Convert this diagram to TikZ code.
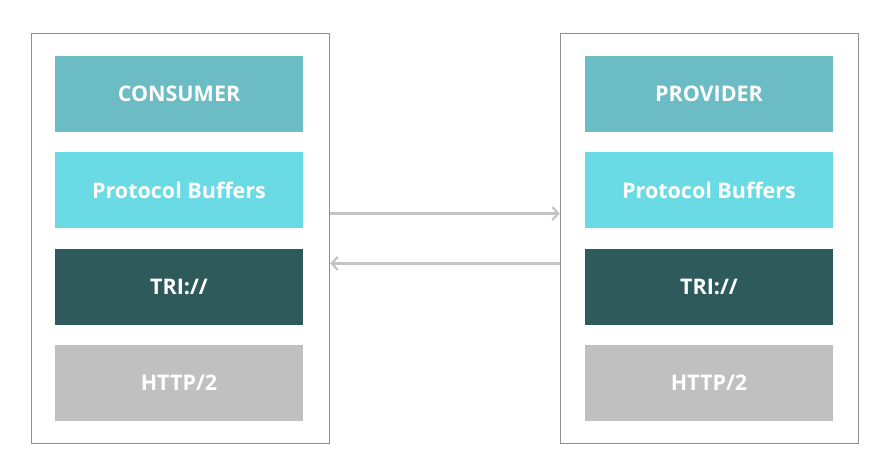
\documentclass[tikz,border=0pt]{standalone}
\usepackage{fontspec}
\setmainfont{Open Sans}
\usepackage{tikz}
\usetikzlibrary{arrows.meta, positioning}

\definecolor{tealA}{HTML}{6BBCC5}
\definecolor{cyanA}{HTML}{6ADBE4}
\definecolor{darkA}{HTML}{2E5A5B}
\definecolor{greyA}{HTML}{C0C0C0}
\definecolor{frameA}{HTML}{8E8E8E}
\definecolor{wireA}{HTML}{C4C4C4}

\begin{document}
\begin{tikzpicture}[x=1pt, y=-1pt,
    side/.style={draw=frameA, line width=1.4pt, minimum width=298pt, minimum height=410pt, inner sep=0pt},
    layer/.style={minimum width=248pt, minimum height=76pt, inner sep=0pt, text=white, font=\fontsize{21.5}{24}\selectfont\bfseries},
    flow/.style={wireA, line width=2.2pt, -{Straight Barb[length=6pt, width=13pt]}}]
        \useasboundingbox (0,0) rectangle (896,475);

        % the two sides
        \node[side] (cbox) at (180.5,238.5) {};
        \node[side] (pbox) at (709.5,238.5) {};

        % stacks of layers
        \foreach \s/\x/\top in {c/179/CONSUMER, p/709/PROVIDER} {
          \node[layer, fill=tealA] (\s1) at (\x,94) {\top};
          \node[layer, fill=cyanA, below=20pt of \s1] (\s2) {Protocol Buffers};
          \node[layer, fill=darkA, below=20pt of \s2] (\s3) {TRI://};
          \node[layer, fill=greyA, below=20pt of \s3] (\s4) {HTTP/2};
        }

        % request and response
        \draw[flow] ([yshift=25pt]cbox.east) -- ([yshift=25pt]pbox.west);
        \draw[flow] ([yshift=-25pt]pbox.west) -- ([yshift=-25pt]cbox.east);
\end{tikzpicture}
\end{document}
